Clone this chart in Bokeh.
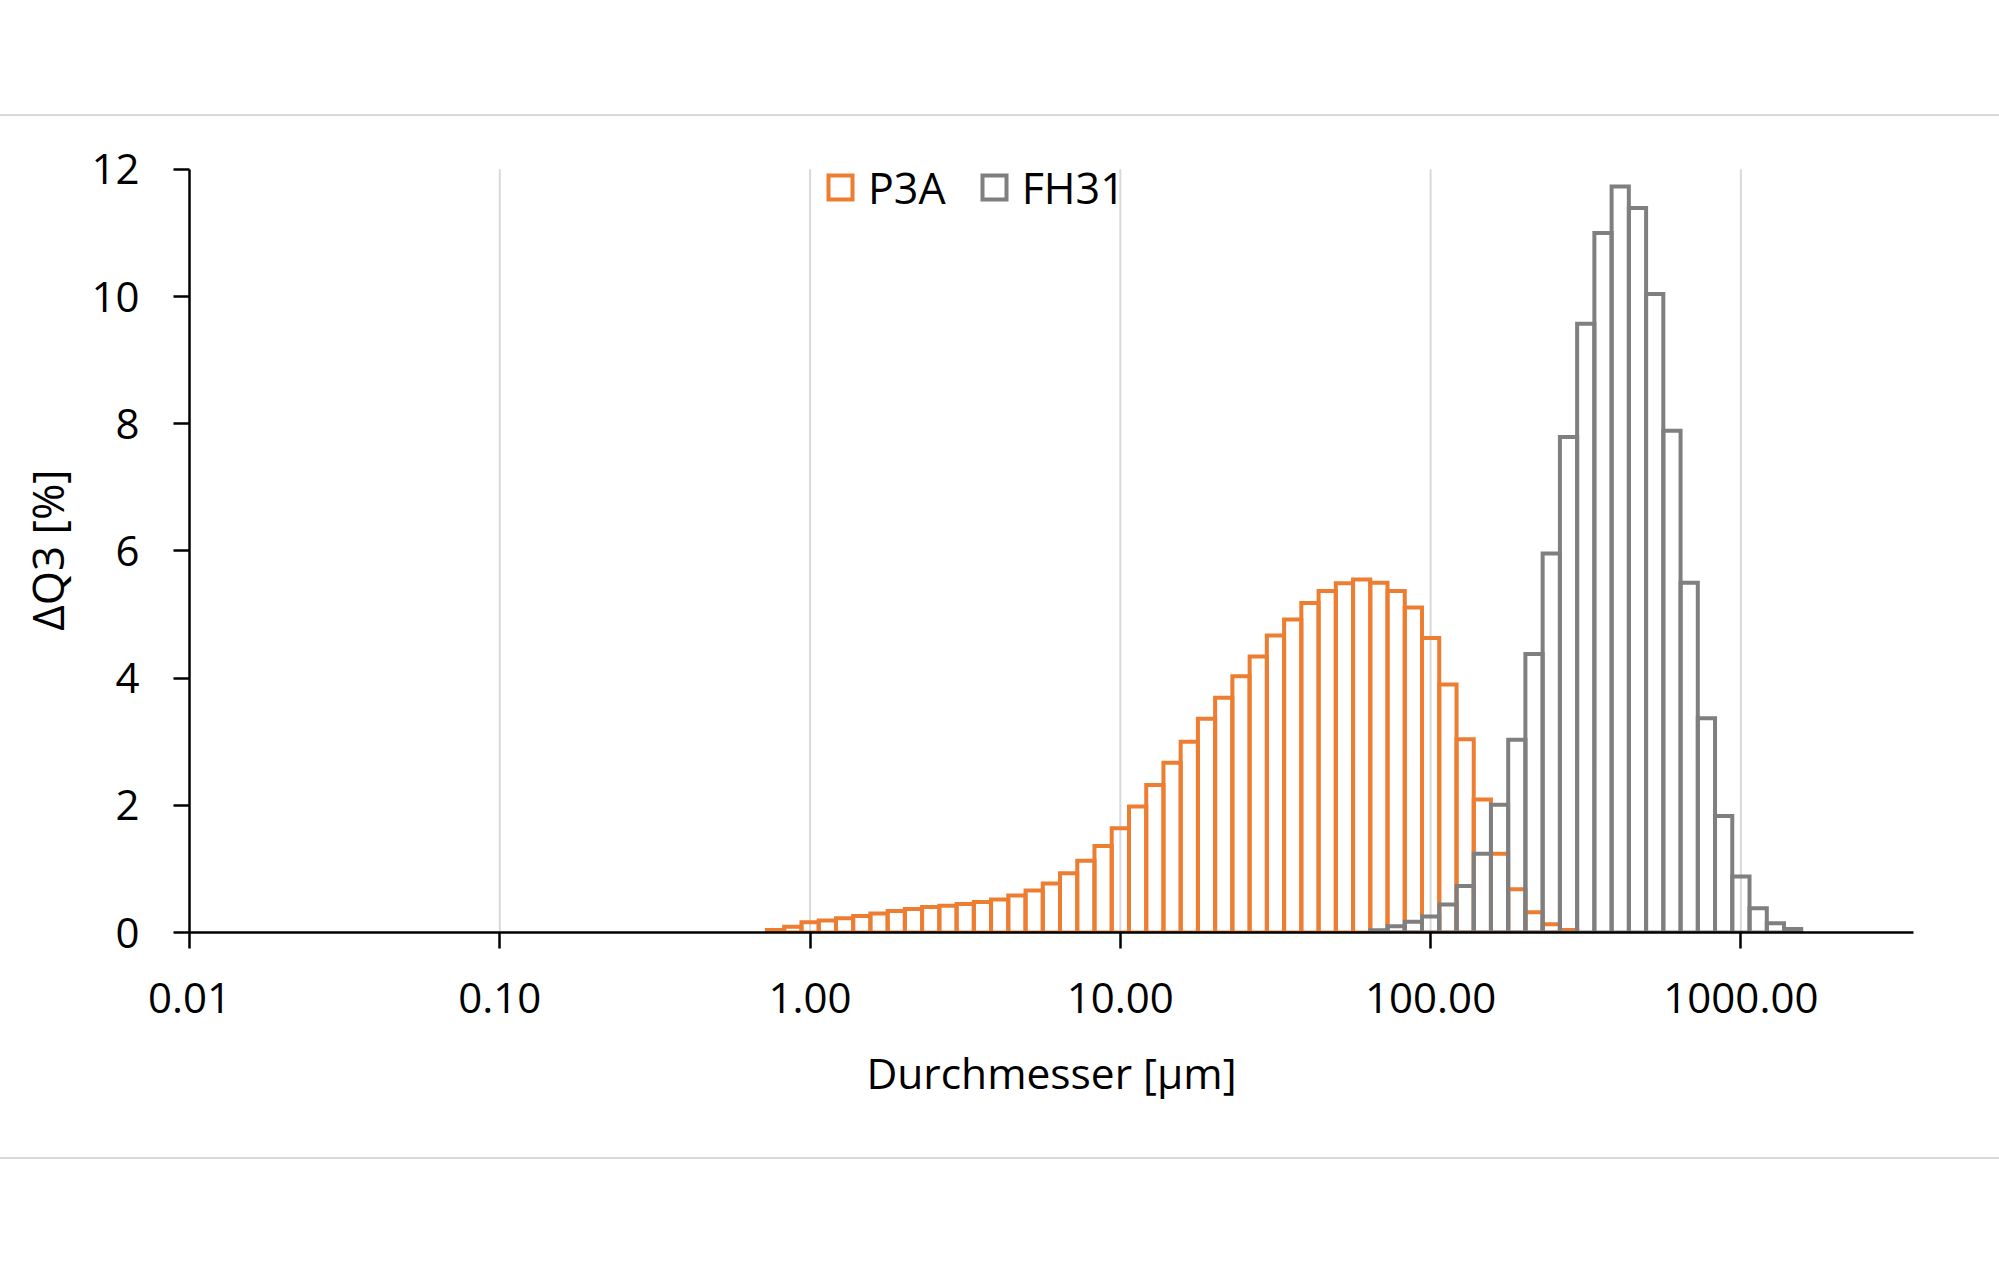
from bokeh.plotting import figure
from bokeh.models import (Range1d, FixedTicker, PrintfTickFormatter, Legend,
                          LegendItem, Div, ColumnDataSource)
from bokeh.layouts import column
from bokeh.embed import file_html
from bokeh.resources import INLINE

# particle size classes (class centre, µm)
diameters = [0.774, 0.880, 1.000, 1.137, 1.292, 1.468, 1.668, 1.896, 2.154, 2.448,
             2.783, 3.162, 3.594, 4.084, 4.642, 5.275, 5.995, 6.813, 7.743, 8.799,
             10.00, 11.37, 12.92, 14.68, 16.68, 18.96, 21.54, 24.48, 27.83, 31.62,
             35.94, 40.84, 46.42, 52.75, 59.95, 68.13, 77.43, 87.99, 100.0, 113.7,
             129.2, 146.8, 166.8, 189.6, 215.4, 244.8, 278.3, 316.2, 359.4, 408.4,
             464.2, 527.5, 599.5, 681.3, 774.3, 879.9, 1000.0, 1137.0, 1292.0, 1468.0]

# ΔQ3 [%] per class
p3a = [0.04, 0.09, 0.16, 0.19, 0.225, 0.26, 0.30, 0.34, 0.37, 0.40,
       0.42, 0.45, 0.48, 0.52, 0.58, 0.66, 0.77, 0.93, 1.13, 1.36,
       1.64, 1.98, 2.32, 2.67, 3.00, 3.36, 3.69, 4.03, 4.34, 4.67,
       4.92, 5.18, 5.37, 5.49, 5.55, 5.50, 5.37, 5.11, 4.63, 3.90,
       3.04, 2.09, 1.24, 0.68, 0.32, 0.13, 0.04, 0.0, 0.0, 0.0,
       0.0, 0.0, 0.0, 0.0, 0.0, 0.0, 0.0, 0.0, 0.0, 0.0]

fh31 = [0.0, 0.0, 0.0, 0.0, 0.0, 0.0, 0.0, 0.0, 0.0, 0.0,
        0.0, 0.0, 0.0, 0.0, 0.0, 0.0, 0.0, 0.0, 0.0, 0.0,
        0.0, 0.0, 0.0, 0.0, 0.0, 0.0, 0.0, 0.0, 0.0, 0.0,
        0.0, 0.0, 0.0, 0.0, 0.0, 0.035, 0.10, 0.17, 0.25, 0.44,
        0.73, 1.24, 2.01, 3.03, 4.38, 5.96, 7.79, 9.57, 11.0, 11.73,
        11.39, 10.04, 7.89, 5.50, 3.37, 1.83, 0.88, 0.38, 0.145, 0.056]

series_names = ["P3A", "FH31"]
x_ticks = [0.01, 0.1, 1, 10, 100, 1000]
x_tick_labels = ["0.01", "0.10", "1.00", "10.00", "100.00", "1000.00"]
y_ticks = [0, 2, 4, 6, 8, 10, 12]

ORANGE = "#ED7D31"
GREY = "#7F7F7F"
FONT = "Open Sans"
HALF = 10 ** (1 / 36)  # half class width on the log axis


def bars(values):
    d = [x for x, v in zip(diameters, values) if v > 0]
    v = [v for v in values if v > 0]
    return ColumnDataSource(dict(left=[x / HALF for x in d], right=[x * HALF for x in d],
                                 bottom=[0] * len(v), top=v))


# the y range reaches a little above 12 so the legend sits inside the frame;
# the axis line and grid lines stop at 12 as in the original
p = figure(width=1999, height=1041, x_axis_type="log",
           x_range=Range1d(0.01, 3600), y_range=Range1d(0, 12.5),
           output_backend="svg", toolbar_location=None,
           min_border_left=189, min_border_right=86,
           min_border_top=21, min_border_bottom=225, margin=0)
p.outline_line_color = None
p.background_fill_color = "white"
p.border_fill_color = "white"

# vertical grid lines at the decades (0 .. 12)
p.xgrid.grid_line_color = None
p.ygrid.grid_line_color = None
p.segment(x0=x_ticks[1:], x1=x_ticks[1:], y0=[y_ticks[0]] * 5, y1=[y_ticks[-1]] * 5,
          line_color="#D9D9D9", line_width=2, level="underlay")

r1 = p.quad(left="left", right="right", bottom="bottom", top="top", source=bars(p3a),
            fill_color=None, line_color=ORANGE, line_width=4, line_join="miter")
r2 = p.quad(left="left", right="right", bottom="bottom", top="top", source=bars(fh31),
            fill_color=None, line_color=GREY, line_width=4, line_join="miter")

# axes
p.xaxis.ticker = FixedTicker(ticks=x_ticks)
p.xaxis.formatter = PrintfTickFormatter(format="%.2f")
p.xaxis.major_label_overrides = {t: l for t, l in zip(x_ticks, x_tick_labels)}
p.yaxis.ticker = FixedTicker(ticks=y_ticks)
p.yaxis.bounds = (y_ticks[0], y_ticks[-1])
for ax in (p.xaxis[0], p.yaxis[0]):
    ax.axis_line_color = "black"
    ax.axis_line_width = 2.5
    ax.major_tick_line_color = "black"
    ax.major_tick_line_width = 2.5
    ax.major_tick_out = 16
    ax.major_tick_in = 0
    ax.minor_tick_line_color = None
    ax.major_label_text_font = FONT
    ax.major_label_text_font_size = "42px"
    ax.major_label_text_color = "black"
    ax.axis_label_text_font = FONT
    ax.axis_label_text_font_style = "normal"
    ax.axis_label_text_color = "black"

p.xaxis.axis_label = "Durchmesser [µm]"
p.xaxis.axis_label_text_font_size = "42.5px"
p.xaxis.major_label_standoff = 34
p.xaxis.axis_label_standoff = 28
# trailing no-break spaces keep the title centred on the 0..12 span of the axis
p.yaxis.axis_label = "ΔQ3 [%]\u00a0\u00a0\u2009"
p.yaxis.axis_label_text_font_size = "44px"
p.yaxis.major_label_standoff = 34
p.yaxis.axis_label_standoff = 11

legend = Legend(items=[LegendItem(label=series_names[0], renderers=[r1]),
                       LegendItem(label=series_names[1], renderers=[r2])],
                orientation="horizontal", location=(636, 714),
                glyph_width=30, glyph_height=30, label_standoff=13, spacing=33,
                label_height=62,
                padding=0, margin=0, border_line_color=None,
                background_fill_alpha=0,
                label_text_font=FONT, label_text_font_size="43px",
                label_text_color="black")
p.add_layout(legend)

top_div = Div(text="", width=1999, height=116, margin=0,
              styles={"border-bottom": "2px solid #D9D9D9", "box-sizing": "border-box"})
bottom_div = Div(text="", width=1999, height=115, margin=0,
                 styles={"border-top": "2px solid #D9D9D9", "box-sizing": "border-box"})

layout = column(top_div, p, bottom_div, spacing=0, margin=0)

open("out.html", "w").write(file_html(layout, INLINE))
